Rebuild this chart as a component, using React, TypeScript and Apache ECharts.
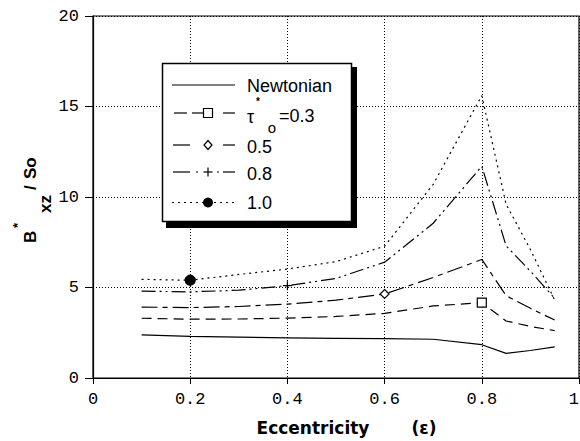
import React, { useEffect, useRef } from "react";
import * as echarts from "echarts";

// ---- data ----
const X_VALUES = [0.1, 0.2, 0.3, 0.4, 0.5, 0.6, 0.7, 0.8, 0.85, 0.9, 0.95];
const NEWTONIAN = [2.38, 2.3, 2.26, 2.22, 2.19, 2.17, 2.14, 1.84, 1.36, 1.52, 1.72];
const TAU_03 = [3.3, 3.25, 3.26, 3.31, 3.4, 3.57, 3.98, 4.16, 3.15, 2.85, 2.62];
const TAU_05 = [3.92, 3.89, 3.95, 4.08, 4.3, 4.64, 5.55, 6.55, 4.55, 3.85, 3.2];
const TAU_08 = [4.8, 4.76, 4.85, 5.1, 5.5, 6.4, 8.55, 11.7, 7.3, 5.9, 4.4];
const TAU_10 = [5.45, 5.4, 5.72, 6.02, 6.43, 7.28, 10.7, 15.6, 9.6, 7.1, 4.3];

const SERIES_NAMES = ["Newtonian", "τ*o=0.3", "0.5", "0.8", "1.0"];
const X_TICK_LABELS = ["0", "0.2", "0.4", "0.6", "0.8", "1"];
const Y_TICK_LABELS = ["0", "5", "10", "15", "20"];

const BLACK = "#000";
const DASH_03 = [10, 6];
const DASH_05 = [16, 5, 5, 5];
const DASH_08 = [14, 4, 2, 4, 2, 4];
const DOT_10 = [2, 4];

function buildData(values: number[], markIdx: number) {
  return X_VALUES.map((x, i) =>
    i === markIdx ? { value: [x, values[i]] } : { value: [x, values[i]], symbol: "none" }
  );
}

export default function App() {
  const ref = useRef<HTMLDivElement>(null);

  useEffect(() => {
    if (!ref.current) return;
    const chart = echarts.init(ref.current, undefined, { renderer: "svg" });

    const lineBase = (name: string, values: number[], dash: any, markIdx: number, symbol: string, size: number, fill: string) => ({
      name,
      type: "line",
      data: buildData(values, markIdx),
      symbol,
      symbolSize: size,
      showSymbol: true,
      lineStyle: { color: BLACK, width: 1.2, type: dash },
      itemStyle: { color: fill, borderColor: BLACK, borderWidth: 1.2 },
      z: 3,
    });

    const legendX0 = 172;
    const legendX1 = 235;
    const markX = 208;
    const rows = [85, 113, 145, 172, 202.5];
    const ls = { stroke: BLACK, lineWidth: 1.2 };
    const Z = 100;

    const legendGraphics: any[] = [
      { type: "rect", z: Z, shape: { x: 166, y: 67, width: 191, height: 161 }, style: { fill: BLACK } },
      { type: "rect", z: Z + 1, shape: { x: 162.5, y: 63.5, width: 189, height: 158 }, style: { fill: "#fff", stroke: BLACK, lineWidth: 1.5 } },
      // Newtonian
      { type: "line", z: Z + 2, shape: { x1: legendX0, y1: rows[0], x2: legendX1, y2: rows[0] }, style: ls },
      { type: "text", z: Z + 2, style: { text: SERIES_NAMES[0], x: 247, y: 86, fontSize: 18, fontFamily: "Liberation Sans", fill: BLACK, align: "left", verticalAlign: "middle" } },
      // tau 0.3
      { type: "line", z: Z + 2, shape: { x1: 174, y1: rows[1], x2: 187, y2: rows[1] }, style: ls },
      { type: "line", z: Z + 2, shape: { x1: 192, y1: rows[1], x2: 203, y2: rows[1] }, style: ls },
      { type: "line", z: Z + 2, shape: { x1: 223, y1: rows[1], x2: 235, y2: rows[1] }, style: ls },
      { type: "rect", z: Z + 3, shape: { x: markX - 4.5, y: rows[1] - 4.5, width: 9, height: 9 }, style: { fill: "#fff", stroke: BLACK, lineWidth: 1.2 } },
      { type: "text", z: Z + 2, style: { text: "τ", x: 247, y: 117, fontSize: 18, fontFamily: "Liberation Sans", fill: BLACK, align: "left", verticalAlign: "middle" } },
      { type: "text", z: Z + 2, style: { text: "*", x: 258, y: 101.5, fontSize: 10, fontWeight: "bold", fontFamily: "Liberation Sans", fill: BLACK, align: "center", verticalAlign: "middle" } },
      { type: "text", z: Z + 2, style: { text: "o", x: 272, y: 127, fontSize: 15, fontFamily: "Liberation Sans", fill: BLACK, align: "center", verticalAlign: "middle" } },
      { type: "text", z: Z + 2, style: { text: "=0.3", x: 279, y: 116, fontSize: 18, fontFamily: "Liberation Sans", fill: BLACK, align: "left", verticalAlign: "middle" } },
      // 0.5
      { type: "line", z: Z + 2, shape: { x1: 173, y1: rows[2], x2: 190, y2: rows[2] }, style: ls },
      { type: "line", z: Z + 2, shape: { x1: 223, y1: rows[2], x2: 235, y2: rows[2] }, style: ls },
      { type: "polygon", z: Z + 3, shape: { points: [[markX, rows[2] - 4.5], [markX + 4, rows[2]], [markX, rows[2] + 4.5], [markX - 4, rows[2]]] }, style: { fill: "#fff", stroke: BLACK, lineWidth: 1.2 } },
      { type: "text", z: Z + 2, style: { text: SERIES_NAMES[2], x: 247, y: 146.5, fontSize: 18, fontFamily: "Liberation Sans", fill: BLACK, align: "left", verticalAlign: "middle" } },
      // 0.8
      { type: "line", z: Z + 2, shape: { x1: 173, y1: rows[3], x2: 190, y2: rows[3] }, style: ls },
      { type: "line", z: Z + 2, shape: { x1: 196, y1: rows[3], x2: 198, y2: rows[3] }, style: ls },
      { type: "line", z: Z + 2, shape: { x1: 203.5, y1: rows[3], x2: 212.5, y2: rows[3] }, style: ls },
      { type: "line", z: Z + 2, shape: { x1: markX, y1: rows[3] - 4.5, x2: markX, y2: rows[3] + 4.5 }, style: ls },
      { type: "line", z: Z + 2, shape: { x1: 217, y1: rows[3], x2: 219, y2: rows[3] }, style: ls },
      { type: "line", z: Z + 2, shape: { x1: 223, y1: rows[3], x2: 235, y2: rows[3] }, style: ls },
      { type: "text", z: Z + 2, style: { text: SERIES_NAMES[3], x: 247, y: 173.5, fontSize: 18, fontFamily: "Liberation Sans", fill: BLACK, align: "left", verticalAlign: "middle" } },
      // 1.0
      { type: "line", z: Z + 2, shape: { x1: legendX0, y1: rows[4], x2: legendX1, y2: rows[4] }, style: { ...ls, lineDash: DOT_10 } },
      { type: "circle", z: Z + 3, shape: { cx: markX, cy: rows[4], r: 5 }, style: { fill: BLACK } },
      { type: "text", z: Z + 2, style: { text: SERIES_NAMES[4], x: 247, y: 202.5, fontSize: 18, fontFamily: "Liberation Sans", fill: BLACK, align: "left", verticalAlign: "middle" } },
    ];

    const titleGraphics: any[] = [
      { type: "text", style: { text: "Eccentricity", x: 313, y: 428, fontSize: 17, fontWeight: "bold", fontFamily: "DejaVu Sans", fill: BLACK, align: "center", verticalAlign: "middle" } },
      { type: "text", style: { text: "(ε)", x: 424, y: 428, fontSize: 17, fontWeight: "bold", fontFamily: "DejaVu Sans", fill: BLACK, align: "center", verticalAlign: "middle" } },
      {
        type: "group",
        x: 30,
        y: 243,
        rotation: Math.PI / 2,
        children: [
          { type: "text", style: { text: "B", x: 0, y: 0, fontSize: 17, fontWeight: "bold", fontFamily: "Liberation Sans", fill: BLACK, align: "left", verticalAlign: "middle" } },
          { type: "text", style: { text: "*", x: 15, y: -13, fontSize: 13, fontWeight: "bold", fontFamily: "Liberation Sans", fill: BLACK, align: "left", verticalAlign: "middle" } },
          { type: "text", style: { text: "xz", x: 30, y: 15, fontSize: 17, fontWeight: "bold", fontFamily: "Liberation Sans", fill: BLACK, align: "left", verticalAlign: "middle" } },
          { type: "text", style: { text: "/", x: 53, y: 0, fontSize: 17, fontWeight: "bold", fontFamily: "Liberation Sans", fill: BLACK, align: "left", verticalAlign: "middle" } },
          { type: "text", style: { text: "So", x: 64, y: 0, fontSize: 17, fontWeight: "bold", fontFamily: "Liberation Sans", fill: BLACK, align: "left", verticalAlign: "middle" } },
        ],
      },
    ];

    const option: any = {
      animation: false,
      backgroundColor: "#fff",
      grid: {
        left: 93,
        right: 1,
        top: 16,
        bottom: 63,
        containLabel: false,
        outerBoundsMode: "none",
        show: true,
        borderColor: BLACK,
        borderWidth: 1.2,
      },
      xAxis: {
        type: "value",
        min: 0,
        max: 1,
        interval: 0.2,
        axisLine: { show: true, onZero: false, lineStyle: { color: BLACK, width: 1.2 } },
        axisTick: { show: true, length: 6, lineStyle: { color: BLACK, width: 1 } },
        axisLabel: {
          margin: 13,
          color: BLACK,
          fontSize: 17,
          fontFamily: "Liberation Mono",
          alignMaxLabel: "right",
          formatter: (_v: number, i: number) => X_TICK_LABELS[i],
        },
        splitLine: { show: true, lineStyle: { color: BLACK, width: 1, type: [1, 2] } },
      },
      yAxis: {
        type: "value",
        min: 0,
        max: 20,
        interval: 5,
        axisLine: { show: true, onZero: false, lineStyle: { color: BLACK, width: 1.2 } },
        axisTick: { show: true, length: 8, lineStyle: { color: BLACK, width: 1 } },
        axisLabel: {
          margin: 14,
          color: BLACK,
          fontSize: 17,
          fontFamily: "Liberation Mono",
          formatter: (_v: number, i: number) => Y_TICK_LABELS[i],
        },
        splitLine: { show: true, lineStyle: { color: BLACK, width: 1, type: [1, 2] } },
      },
      series: [
        {
          name: SERIES_NAMES[0],
          type: "line",
          data: X_VALUES.map((x, i) => [x, NEWTONIAN[i]]),
          symbol: "none",
          lineStyle: { color: BLACK, width: 1.2, type: "solid" },
          z: 3,
        },
        lineBase(SERIES_NAMES[1], TAU_03, DASH_03, 7, "rect", 9, "#fff"),
        lineBase(SERIES_NAMES[2], TAU_05, DASH_05, 5, "diamond", 9, "#fff"),
        lineBase(SERIES_NAMES[3], TAU_08, DASH_08, 3, "path://M5,0L5,10M0,5L10,5", 9, "none"),
        lineBase(SERIES_NAMES[4], TAU_10, DOT_10, 1, "circle", 10, BLACK),
      ],
      graphic: [...legendGraphics, ...titleGraphics],
    };

    chart.setOption(option);
    return () => chart.dispose();
  }, []);

  return (
    <div
      ref={ref}
      style={{ position: "fixed", left: 0, top: 0, width: 580, height: 441, background: "#fff" }}
    />
  );
}
